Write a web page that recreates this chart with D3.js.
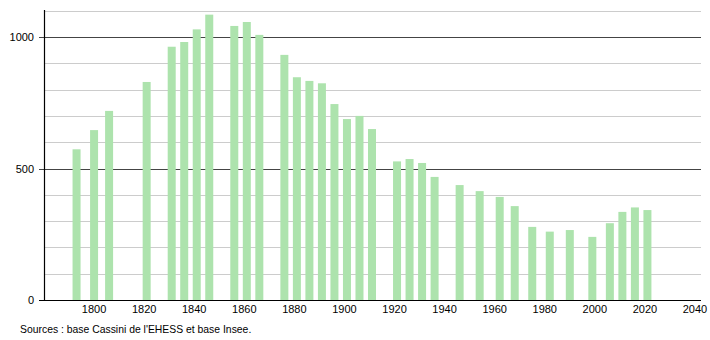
<!DOCTYPE html>
<html>
<head>
<meta charset="utf-8">
<script src="https://cdn.jsdelivr.net/npm/d3@7"></script>
<style>
  html, body { margin: 0; padding: 0; background: #fff; }
  svg { display: block; font-family: "Liberation Sans", Arial, sans-serif; }
</style>
</head>
<body>
<svg id="chart" width="710" height="340"></svg>
<script>
const years = [1793, 1800, 1806, 1821, 1831, 1836, 1841, 1846, 1856, 1861, 1866,
  1876, 1881, 1886, 1891, 1896, 1901, 1906, 1911, 1921, 1926, 1931, 1936,
  1946, 1954, 1962, 1968, 1975, 1982, 1990, 1999, 2006, 2011, 2016, 2021];
const population = [573, 646, 719, 829, 963, 981, 1029, 1085, 1042, 1057, 1008,
  932, 847, 833, 824, 745, 688, 700, 650, 527, 536, 521, 468,
  437, 414, 392, 357, 278, 260, 266, 240, 292, 335, 352, 342];
const xTicks = [1800, 1820, 1840, 1860, 1880, 1900, 1920, 1940, 1960, 1980, 2000, 2020, 2040];
const yMajorTicks = [0, 500, 1000];
const yGridTicks = [100, 200, 300, 400, 600, 700, 800, 900, 1100];
const sourceText = "Sources : base Cassini de l'EHESS et base Insee.";

const svg = d3.select("#chart");
const mLeft = 44, mRight = 701, mTop = 10, mBottom = 300;

const x = d3.scaleLinear().domain([1780, 2042.4]).range([mLeft, mRight]);
const y = d3.scaleLinear().domain([0, 1100]).range([mBottom, mTop + 0.7]);

// minor grid
svg.append("g").selectAll("line").data(yGridTicks).join("line")
  .attr("x1", mLeft).attr("x2", mRight)
  .attr("y1", d => Math.round(y(d)) + 0.5).attr("y2", d => Math.round(y(d)) + 0.5)
  .attr("stroke", "#cccccc").attr("stroke-width", 1);

// major grid
svg.append("g").selectAll("line").data(yMajorTicks.filter(d => d > 0)).join("line")
  .attr("x1", mLeft - 5).attr("x2", mRight)
  .attr("y1", d => Math.round(y(d)) + 0.5).attr("y2", d => Math.round(y(d)) + 0.5)
  .attr("stroke", "#444444").attr("stroke-width", 1);

// bars
const barW = 8;
svg.append("g").selectAll("rect").data(years).join("rect")
  .attr("x", (d) => x(d) - barW / 2)
  .attr("width", barW)
  .attr("y", (d, i) => y(population[i]))
  .attr("height", (d, i) => mBottom - y(population[i]))
  .attr("fill", "#ade3ad");

// axes lines
svg.append("line").attr("x1", mLeft + 0.5).attr("x2", mLeft + 0.5)
  .attr("y1", mTop).attr("y2", mBottom).attr("stroke", "#000").attr("stroke-width", 1.2);
svg.append("line").attr("x1", mLeft - 5).attr("x2", mRight)
  .attr("y1", mBottom + 0.5).attr("y2", mBottom + 0.5).attr("stroke", "#000").attr("stroke-width", 1.2);

// y labels
svg.append("g").selectAll("text").data(yMajorTicks).join("text")
  .attr("x", 34).attr("y", d => y(d) + 4)
  .attr("text-anchor", "end").attr("font-size", 11).attr("fill", "#000")
  .text(d => d);

// x labels
svg.append("g").selectAll("text").data(xTicks).join("text")
  .attr("x", d => x(d)).attr("y", 313)
  .attr("text-anchor", "middle").attr("font-size", 11).attr("fill", "#000")
  .text(d => d);

svg.append("text").attr("x", 20).attr("y", 333)
  .attr("font-size", 10.4).attr("fill", "#000").text(sourceText);
</script>
</body>
</html>
